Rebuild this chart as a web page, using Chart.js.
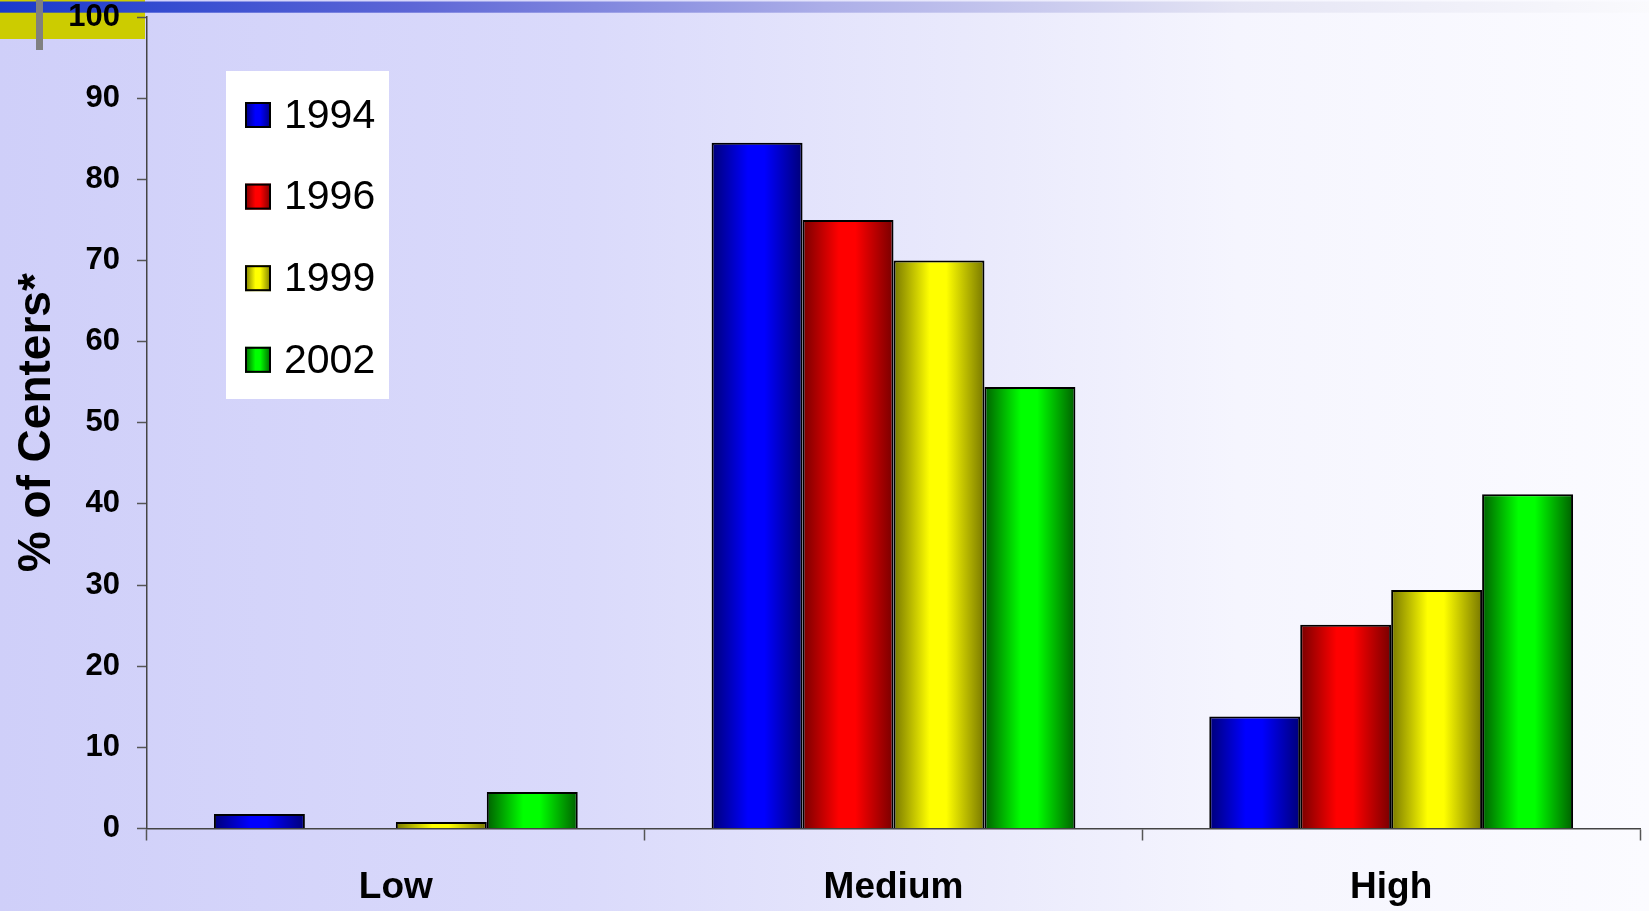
<!DOCTYPE html>
<html>
<head>
<meta charset="utf-8">
<script src="https://cdn.jsdelivr.net/npm/chart.js@4.4.1/dist/chart.umd.min.js"></script>
<style>
  html, body { margin: 0; padding: 0; background: #ffffff; }
  #wrap { width: 1649px; height: 911px; position: relative; }
  canvas { display: block; }
</style>
</head>
<body>
<div id="wrap"><canvas id="chart" width="1649" height="911"></canvas></div>
<script>
// Share of centers by level, survey years 1994-2002
const categories = ['Low', 'Medium', 'High'];
const seriesLabels = ['1994', '1996', '1999', '2002'];
const values1994 = [1.8, 84.5, 13.8];
const values1996 = [0, 75.0, 25.1];
const values1999 = [0.8, 70.0, 29.4];
const values2002 = [4.5, 54.4, 41.2];
const yMin = 0, yMax = 100, yStep = 10;
const yTitle = '% of Centers*';

const FONT = "'Liberation Sans', Arial, Helvetica, sans-serif";

// cylinder-style shading for each series: dark edges, bright middle
const shades = [
  { edge: '#000078', mid: '#0000ff' },
  { edge: '#780000', mid: '#ff0000' },
  { edge: '#787800', mid: '#ffff00' },
  { edge: '#006000', mid: '#00ff00' }
];

function shadeGradient(ctx, x0, x1, s) {
  const g = ctx.createLinearGradient(x0, 0, x1, 0);
  g.addColorStop(0, s.edge);
  g.addColorStop(0.4, s.mid);
  g.addColorStop(0.58, s.mid);
  g.addColorStop(1, s.edge);
  return g;
}

const seriesValues = [values1994, values1996, values1999, values2002];

const datasets = seriesLabels.map((label, i) => ({
  label: label,
  data: seriesValues[i],
  backgroundColor: (c) => shades[c.datasetIndex].mid,
  borderColor: '#000000',
  borderWidth: 2,
  categoryPercentage: 0.731,
  barPercentage: 1.0
}));

// slide backdrop: lavender-to-white wash, blue header strip, yellow tab
const backdrop = {
  id: 'backdrop',
  beforeDraw(chart) {
    const { ctx, width, height } = chart;
    ctx.save();
    const bg = ctx.createLinearGradient(0, 0, width, 0);
    bg.addColorStop(0, '#cfcff9');
    bg.addColorStop(0.35, '#dadafb');
    bg.addColorStop(0.6, '#eaeafc');
    bg.addColorStop(0.75, '#f5f5fe');
    bg.addColorStop(1, '#fbfbff');
    ctx.fillStyle = bg;
    ctx.fillRect(0, 0, width, height);

    ctx.fillStyle = '#cccc00';
    ctx.fillRect(0, 0, 145, 39);

    const band = ctx.createLinearGradient(0, 0, width, 0);
    band.addColorStop(0, '#1a3acc');
    band.addColorStop(0.25, '#5d66d6');
    band.addColorStop(0.5, '#acaee8');
    band.addColorStop(0.75, '#e4e4f4');
    band.addColorStop(1, '#fafafd');
    ctx.fillStyle = band;
    ctx.fillRect(0, 1.5, width, 11.2);

    ctx.fillStyle = '#808080';
    ctx.fillRect(36, 0, 7, 50);
    ctx.restore();
  }
};

// apply per-bar horizontal shading once bar geometry is known
const cylinderShade = {
  id: 'cylinderShade',
  beforeDatasetsDraw(chart) {
    const ctx = chart.ctx;
    chart.data.datasets.forEach((ds, i) => {
      const meta = chart.getDatasetMeta(i);
      meta.data.forEach((el) => {
        const p = el.getProps(['x', 'width'], true);
        el.options.backgroundColor = shadeGradient(ctx, p.x - p.width / 2, p.x + p.width / 2, shades[i]);
      });
    });
  }
};

// boxed legend inside the plot area
const boxLegend = {
  id: 'boxLegend',
  afterDraw(chart) {
    const ctx = chart.ctx;
    ctx.save();
    ctx.fillStyle = '#ffffff';
    ctx.fillRect(226, 71, 163, 328);
    chart.data.datasets.forEach((ds, i) => {
      const top = 102 + i * 81.6;
      const sx = 245, size = 26;
      ctx.fillStyle = shadeGradient(ctx, sx, sx + size, shades[i]);
      ctx.fillRect(sx, top, size, size);
      ctx.lineWidth = 2;
      ctx.strokeStyle = '#000000';
      ctx.strokeRect(sx + 1, top + 1, size - 2, size - 2);
      ctx.fillStyle = '#000000';
      ctx.font = '41px ' + FONT;
      ctx.textAlign = 'left';
      ctx.textBaseline = 'middle';
      ctx.fillText(ds.label, 284, top + size / 2 + 1.5);
    });
    ctx.restore();
  }
};

new Chart(document.getElementById('chart'), {
  type: 'bar',
  data: { labels: categories, datasets: datasets },
  plugins: [backdrop, cylinderShade, boxLegend],
  options: {
    responsive: false,
    animation: false,
    devicePixelRatio: 1,
    layout: { padding: { top: 17, right: 9, left: 0, bottom: 0 } },
    plugins: {
      legend: { display: false },
      tooltip: { enabled: false }
    },
    scales: {
      x: {
        ticks: {
          padding: 25,
          color: '#000000',
          font: { family: FONT, size: 37, weight: 'bold', lineHeight: 1.2 }
        },
        grid: { drawOnChartArea: false, tickLength: 12, color: '#555555', tickWidth: 1.5, offset: true },
        border: { color: '#444444', width: 1.5 },
        afterFit(s) { s.height = 82.5; s.paddingLeft = 0; s.paddingRight = 0; }
      },
      y: {
        min: yMin,
        max: yMax,
        ticks: {
          stepSize: yStep,
          padding: 17,
          color: '#000000',
          font: { family: FONT, size: 31, weight: 'bold', lineHeight: 1 }
        },
        grid: { drawOnChartArea: false, tickLength: 10, color: '#555555', tickWidth: 1.5 },
        border: { color: '#444444', width: 1.5 },
        title: {
          display: true,
          text: yTitle,
          color: '#000000',
          font: { family: FONT, size: 46, weight: 'bold', lineHeight: 1.2 },
          padding: { top: 10, bottom: 0 }
        },
        afterFit(s) { s.width = 147; s.paddingTop = 0; s.paddingBottom = 0; }
      }
    }
  }
});
</script>
</body>
</html>
